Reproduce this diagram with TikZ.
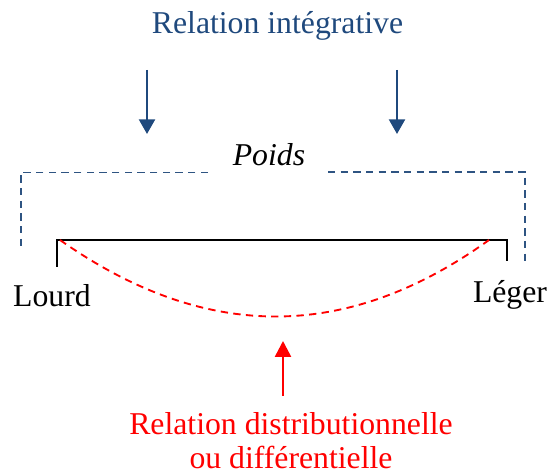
\documentclass[tikz,border=0pt]{standalone}
\usepackage{fontspec}
\setmainfont{Liberation Serif}
\usetikzlibrary{arrows.meta}
\definecolor{dblue}{RGB}{31,73,125}
\definecolor{bblue}{RGB}{46,84,130}
\definecolor{rred}{RGB}{255,0,0}
\tikzset{
  lbl/.style={anchor=base, inner sep=0pt, font=\fontsize{23.8}{28}\selectfont},
  barrow/.style={draw=dblue, line width=1.7pt, -{Triangle[length=11pt,width=12pt]}},
  rarrow/.style={draw=rred, line width=1.9pt, -{Triangle[length=12pt,width=12pt]}},
  bdash/.style={draw=bblue, line width=1.3pt, dash pattern=on 5.5pt off 4pt},
  rdash/.style={draw=rred, line width=1.4pt, dash pattern=on 5.5pt off 4pt},
  scaleline/.style={draw=black, line width=1.4pt}
}
\begin{document}
\begin{tikzpicture}[x=0.75pt, y=-0.75pt]
\useasboundingbox (0,0) rectangle (547,474);
% texts
\node[lbl, text=dblue] (integ) at (277.5,34) {Relation intégrative};
\node[lbl, font=\fontsize{23.8}{28}\selectfont\itshape] (poids) at (269,166) {Poids};
\node[lbl] (lourd) at (52,307) {Lourd};
\node[lbl] (leger) at (510,303) {Léger};
\node[lbl, text=rred] (distrib) at (291,435) {Relation distributionnelle};
\node[lbl, text=rred] (diff) at (291,469) {ou différentielle};
% blue arrows
\coordinate (a1s) at (147,70);
\coordinate (a1e) at (147,134);
\coordinate (a2s) at (397,70);
\coordinate (a2e) at (397,134);
\draw[barrow] (a1s) -- (a1e);
\draw[barrow] (a2s) -- (a2e);
% dashed brackets
\coordinate (bl1) at (208,172.5);
\coordinate (bl2) at (21,172.5);
\coordinate (bl3) at (21,250);
\coordinate (br1) at (328,172);
\coordinate (br2) at (525,172);
\coordinate (br3) at (525,263);
\draw[bdash] (bl1) -- (bl2) -- (bl3);
\draw[bdash] (br1) -- (br2) -- (br3);
% black scale
\coordinate (sl0) at (57,267);
\coordinate (sl) at (57,240);
\coordinate (sr) at (507,240);
\coordinate (sr0) at (507,261);
\draw[scaleline] (sl0) -- (sl) -- (sr) -- (sr0);
% red curve
\coordinate (c1) at (60,240);
\coordinate (c2) at (489,240);
\draw[rdash] (c1) .. controls (205,342) and (347,342) .. (c2);
% red arrow
\coordinate (r1) at (283,396);
\coordinate (r2) at (283,341);
\draw[rarrow] (r1) -- (r2);
\end{tikzpicture}
\end{document}
